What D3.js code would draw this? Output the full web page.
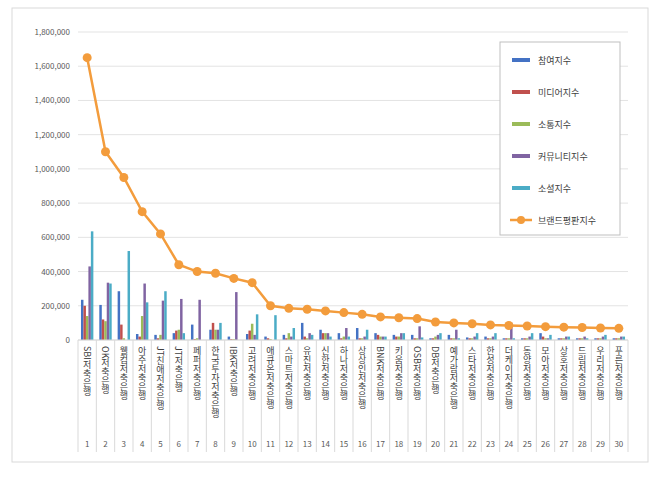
<!DOCTYPE html>
<html><head><meta charset="utf-8">
<script src="https://cdn.jsdelivr.net/npm/d3@7"></script>
<style>body{margin:0;background:#fff;font-family:"Noto Sans CJK KR","Noto Sans",sans-serif}</style>
</head><body><svg id="chart" width="660" height="480"></svg>
<script>
const banks = ["SBI저축은행","OK저축은행","웰컴저축은행","아주저축은행","JT친애저축은행","JT저축은행","페퍼저축은행","한국투자저축은행","IBK저축은행","고려저축은행","애큐온저축은행","스마트저축은행","유진저축은행","신한저축은행","하나저축은행","상상인저축은행","BNK저축은행","키움저축은행","OSB저축은행","DB저축은행","예가람저축은행","스타저축은행","한성저축은행","더케이저축은행","동양저축은행","모아저축은행","상호저축은행","드림저축은행","우리저축은행","푸른저축은행"];
const participation = [235000,205000,285000,35000,30000,40000,90000,60000,20000,35000,20000,30000,100000,60000,40000,70000,40000,30000,30000,10000,30000,15000,20000,10000,10000,40000,10000,10000,10000,10000];
const media = [200000,120000,90000,20000,10000,55000,5000,100000,5000,55000,10000,10000,20000,40000,10000,10000,30000,20000,10000,10000,10000,10000,10000,10000,10000,20000,10000,10000,10000,10000];
const communication = [140000,110000,10000,140000,30000,60000,10000,60000,5000,95000,5000,40000,10000,40000,20000,10000,20000,20000,10000,20000,10000,10000,10000,10000,10000,10000,10000,10000,10000,10000];
const community = [430000,335000,0,330000,230000,240000,235000,60000,280000,30000,0,20000,40000,40000,70000,20000,20000,40000,80000,30000,60000,20000,20000,100000,20000,10000,20000,20000,20000,20000];
const social = [635000,330000,520000,220000,285000,40000,0,100000,0,150000,145000,70000,30000,20000,20000,60000,20000,40000,15000,40000,10000,40000,40000,10000,40000,30000,20000,10000,30000,20000];
const brand = [1650000,1100000,950000,750000,620000,440000,400000,390000,360000,335000,200000,185000,180000,170000,160000,150000,135000,130000,125000,105000,100000,95000,88000,85000,82000,78000,75000,73000,70000,68000];
const yTicks = [0,200000,400000,600000,800000,1000000,1200000,1400000,1600000,1800000];

const series = [
  {name:"참여지수", values:participation, color:"#4472c4"},
  {name:"미디어지수", values:media, color:"#c0504d"},
  {name:"소통지수", values:communication, color:"#9bbb59"},
  {name:"커뮤니티지수", values:community, color:"#8064a2"},
  {name:"소셜지수", values:social, color:"#4bacc6"}
];

const svg = d3.select("#chart");
svg.append("rect").attr("x",12).attr("y",8).attr("width",636).attr("height",454)
  .attr("fill","#fff").attr("stroke","#d9d9d9");

const plotLeft = 78, plotRight = 628, plotTop = 32, plotBottom = 340;
const x = d3.scaleBand().domain(d3.range(banks.length)).range([plotLeft,plotRight]);
const y = d3.scaleLinear().domain([0,1800000]).range([plotBottom,plotTop]);

svg.append("g").selectAll("line").data(yTicks).join("line")
  .attr("x1",plotLeft).attr("x2",plotRight).attr("y1",d=>y(d)).attr("y2",d=>y(d))
  .attr("stroke","#e3e3e3");
svg.append("g").selectAll("text").data(yTicks).join("text")
  .attr("x",plotLeft-8).attr("y",d=>y(d)+3).attr("text-anchor","end")
  .attr("font-size",8).attr("fill","#595959").text(d3.format(","));

const inner = d3.scaleBand().domain(d3.range(series.length)).range([0,x.bandwidth()]).paddingOuter(1.2);
series.forEach((s,si)=>{
  svg.append("g").selectAll("rect").data(s.values).join("rect")
    .attr("x",(d,i)=>x(i)+inner(si)).attr("width",inner.bandwidth())
    .attr("y",d=>y(d)).attr("height",d=>plotBottom-y(d)).attr("fill",s.color);
});

// category table below axis
svg.append("line").attr("x1",plotLeft).attr("x2",plotRight).attr("y1",plotBottom).attr("y2",plotBottom).attr("stroke","#d9d9d9");
svg.append("g").selectAll("line").data(d3.range(banks.length+1)).join("line")
  .attr("x1",i=>i<banks.length?x(i):plotRight).attr("x2",i=>i<banks.length?x(i):plotRight)
  .attr("y1",plotBottom).attr("y2",452).attr("stroke","#d9d9d9");
svg.append("g").selectAll("text").data(banks).join("text")
  .attr("transform",(d,i)=>`translate(${x(i)+x.bandwidth()/2},${plotBottom+6})`)
  .style("writing-mode","vertical-rl").attr("font-size",9).attr("fill","#404040")
  .text(d=>d);
svg.append("g").selectAll("text").data(banks).join("text")
  .attr("x",(d,i)=>x(i)+x.bandwidth()/2).attr("y",447).attr("text-anchor","middle")
  .attr("font-size",8).attr("fill","#595959").text((d,i)=>i+1);

const line = d3.line().x((d,i)=>x(i)+x.bandwidth()/2).y(d=>y(d));
svg.append("path").datum(brand).attr("d",line).attr("fill","none").attr("stroke","#f39c3c").attr("stroke-width",2.5);
svg.append("g").selectAll("circle").data(brand).join("circle")
  .attr("cx",(d,i)=>x(i)+x.bandwidth()/2).attr("cy",d=>y(d)).attr("r",4.5).attr("fill","#f39c3c");

// legend
const lg = svg.append("g").attr("transform","translate(500,42)");
lg.append("rect").attr("width",120).attr("height",193).attr("fill","#fff").attr("stroke","#bfbfbf");
const items = series.map(s=>({name:s.name,color:s.color,line:false})).concat([{name:"브랜드평판지수",color:"#f39c3c",line:true}]);
items.forEach((it,i)=>{
  const g = lg.append("g").attr("transform",`translate(10,${18+i*32})`);
  if(it.line){
    g.append("line").attr("x1",0).attr("x2",22).attr("stroke",it.color).attr("stroke-width",2.5);
    g.append("circle").attr("cx",11).attr("r",4).attr("fill",it.color);
  } else {
    g.append("rect").attr("x",2).attr("y",-2).attr("width",18).attr("height",4).attr("fill",it.color);
  }
  g.append("text").attr("x",28).attr("y",4).attr("font-size",9).attr("fill","#404040").text(it.name);
});
</script></body></html>
